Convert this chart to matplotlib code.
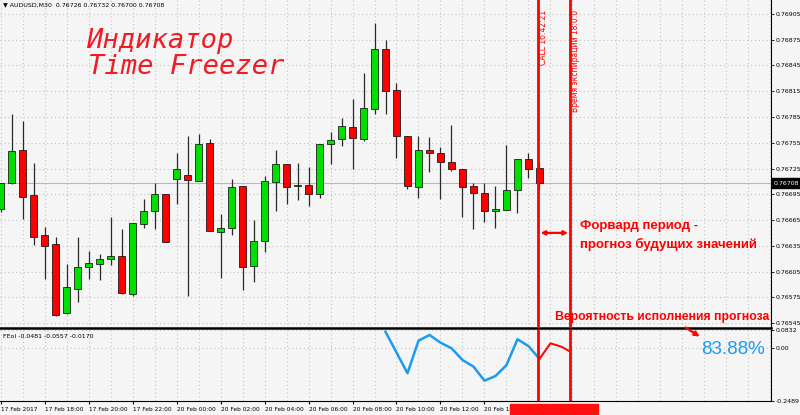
import numpy as np
import matplotlib
matplotlib.use('Agg')
import matplotlib.pyplot as plt
import matplotlib.transforms as mtransforms

# AUDUSD M30, 17 Feb 2017 16:00 ... 20 Feb 2017 16:30
opens = [0.76678, 0.76708, 0.76747, 0.76694, 0.76648, 0.76637, 0.76557, 0.76585, 0.76610, 0.76614,
         0.76620, 0.76623, 0.76579, 0.76660, 0.76675, 0.76695, 0.76713, 0.76717, 0.76711, 0.76755,
         0.76651, 0.76656, 0.76705, 0.76611, 0.76640, 0.76709, 0.76730, 0.76705, 0.76706, 0.76695,
         0.76754, 0.76759, 0.76773, 0.76759, 0.76794, 0.76864, 0.76816, 0.76763, 0.76704, 0.76747,
         0.76743, 0.76732, 0.76725, 0.76705, 0.76697, 0.76675, 0.76677, 0.76700, 0.76736, 0.76726]
highs = [0.76708, 0.76789, 0.76780, 0.76731, 0.76657, 0.76645, 0.76614, 0.76645, 0.76629, 0.76625,
         0.76668, 0.76655, 0.76661, 0.76689, 0.76708, 0.76695, 0.76743, 0.76763, 0.76765, 0.76759,
         0.76672, 0.76713, 0.76705, 0.76665, 0.76716, 0.76747, 0.76730, 0.76731, 0.76727, 0.76754,
         0.76768, 0.76784, 0.76806, 0.76836, 0.76895, 0.76875, 0.76825, 0.76763, 0.76763, 0.76762,
         0.76750, 0.76776, 0.76725, 0.76708, 0.76708, 0.76705, 0.76752, 0.76736, 0.76743, 0.76732]
lows = [0.76674, 0.76707, 0.76666, 0.76636, 0.76596, 0.76553, 0.76556, 0.76569, 0.76596, 0.76595,
        0.76613, 0.76579, 0.76576, 0.76656, 0.76655, 0.76639, 0.76684, 0.76576, 0.76711, 0.76652,
        0.76597, 0.76648, 0.76584, 0.76593, 0.76628, 0.76675, 0.76684, 0.76688, 0.76681, 0.76691,
        0.76730, 0.76751, 0.76725, 0.76757, 0.76788, 0.76788, 0.76737, 0.76701, 0.76691, 0.76721,
        0.76689, 0.76722, 0.76669, 0.76655, 0.76663, 0.76656, 0.76677, 0.76673, 0.76714, 0.76700]
closes = [0.76708, 0.76745, 0.76692, 0.76645, 0.76635, 0.76554, 0.76587, 0.76610, 0.76615, 0.76620,
          0.76623, 0.76580, 0.76661, 0.76675, 0.76695, 0.76639, 0.76724, 0.76712, 0.76754, 0.76652,
          0.76656, 0.76704, 0.76610, 0.76640, 0.76710, 0.76730, 0.76704, 0.76705, 0.76695, 0.76754,
          0.76758, 0.76774, 0.76760, 0.76796, 0.76864, 0.76815, 0.76763, 0.76705, 0.76747, 0.76743,
          0.76732, 0.76724, 0.76703, 0.76696, 0.76675, 0.76678, 0.76700, 0.76736, 0.76725, 0.76708]

# indicator (FEoI) values
ind_x = [35, 36, 37, 38, 39, 40, 41, 42, 43, 44, 45, 46, 47, 48, 49]
ind_y = [0.075, -0.022, -0.119, 0.033, 0.060, 0.024, -0.002, -0.057, -0.088, -0.154,
         -0.132, -0.081, 0.040, 0.008, -0.052]
fwd_x = [49, 50, 51, 51.8]
fwd_y = [-0.052, 0.021, 0.005, -0.018]

time_idx = [0, 4, 8, 12, 16, 20, 24, 28, 32, 36, 40, 44]
time_labels = ['17 Feb 2017', '17 Feb 18:00', '17 Feb 20:00', '17 Feb 22:00', '20 Feb 00:00',
               '20 Feb 02:00', '20 Feb 04:00', '20 Feb 06:00', '20 Feb 08:00', '20 Feb 10:00',
               '20 Feb 12:00', '20 Feb 14:00']
price_ticks = [0.76545, 0.76575, 0.76605, 0.76635, 0.76665, 0.76695, 0.76725, 0.76755,
               0.76785, 0.76815, 0.76845, 0.76875, 0.76905]
last_price = 0.76708
call_pos = 48.9
expiry_pos = 51.8

bg = '#f5f5f5'
grid_c = '#c4c4c4'
W, H = 800, 415


def fx(x):
    return x / W


def fy(y):
    return 1 - y / H


fig = plt.figure(figsize=(8, 4.15), dpi=100, facecolor=bg)
ax = fig.add_axes([0, fy(328), 771 / W, 328 / H], facecolor=bg)
ax2 = fig.add_axes([0, fy(401), 771 / W, 71 / H], facecolor=bg, sharex=ax)

x = np.arange(len(opens))
o = np.array(opens)
c = np.array(closes)
up = c >= o
cols = np.where(up, '#00e000', '#ff0000')
bottoms = np.minimum(o, c)
heights = np.maximum(np.abs(c - o), 0.000012)

ax.vlines(x, lows, highs, color='#2a2a2a', lw=0.9, zorder=3)
ax.bar(x, heights, bottom=bottoms, width=0.62, color=cols, edgecolor='black', lw=0.5, zorder=4)
ax.axhline(last_price, color='#b8b8b8', lw=0.8, zorder=1)

ax.set_xlim(-0.05, 70.05)
ax.set_ylim(0.765392, 0.769213)
ax2.set_ylim(-0.2489, 0.0832)

for a in (ax, ax2):
    a.set_xticks(np.arange(0, 71, 2), minor=True)
    a.grid(True, which='both', axis='x', color=grid_c, ls=(0, (1, 2.5)), lw=0.8)
    a.grid(True, which='major', axis='y', color=grid_c, ls=(0, (1, 2.5)), lw=0.8)
    a.set_axisbelow(True)
    for s in ('left', 'top'):
        a.spines[s].set_visible(False)
    a.spines['right'].set_color('black')
    a.spines['bottom'].set_color('black')
    a.yaxis.tick_right()
    a.tick_params(axis='y', direction='out', length=2, pad=1.5, labelsize=4.5, width=0.6)
    a.tick_params(axis='x', which='minor', length=0)
    a.axvline(call_pos, color='red', lw=2, zorder=5)
    a.axvline(expiry_pos, color='red', lw=2, zorder=5)

ax.spines['bottom'].set_linewidth(1.8)

ax.set_yticks(price_ticks)
ax.set_yticklabels(['%.5f' % p for p in price_ticks])
ax.set_xticks(time_idx)
ax.tick_params(axis='x', length=0, labelbottom=False)

ax2.set_yticks([-0.2489, 0.0, 0.0832])
ax2.set_yticklabels(['-0.2489', '0.00', '0.0832'])
ax2.set_xticks(time_idx)
ax2.set_xticklabels(time_labels)
ax2.tick_params(axis='x', direction='out', length=2.5, pad=1.5, labelsize=4.2, width=0.8)
for lab in ax2.get_xticklabels():
    lab.set_ha('left')

ax2.plot(ind_x, ind_y, color='#1a9cf0', lw=1.8, zorder=4)
ax2.plot(fwd_x, fwd_y, color='red', lw=1.4, zorder=4)

# last price marker on the price scale
trans = mtransforms.blended_transform_factory(ax.transAxes, ax.transData)
ax.text(1.004, last_price, '0.76708', transform=trans, color='white', fontsize=4.5,
        va='center', ha='left', clip_on=False,
        bbox=dict(boxstyle='square,pad=0.35', fc='black', ec='black'))

# headers
fig.text(fx(3), fy(5), '\u25bc AUDUSD,M30  0.76726 0.76732 0.76700 0.76708', fontsize=4.5,
         va='center', ha='left', color='black')
fig.text(fx(3), fy(336), 'FEoI -0.0481 -0.0557 -0.0170', fontsize=4.5,
         va='center', ha='left', color='black')

# title
fig.text(fx(86), fy(41), 'Индикатор', fontsize=19.5, color='#ee1c25', family='DejaVu Sans Mono',
         style='italic', va='center', ha='left')
fig.text(fx(88), fy(67), 'Time Freezer', fontsize=19.5, color='#ee1c25', family='DejaVu Sans Mono',
         style='italic', va='center', ha='left')

# vertical line labels
fig.text(fx(544), fy(10), 'CALL 16:42:21', rotation=90, fontsize=5.5, color='red',
         va='top', ha='center')
fig.text(fx(576), fy(10), 'Время экспирации 18:0:0', rotation=90, fontsize=5.5, color='red',
         va='top', ha='center')

# forward period arrow
ax.annotate('', xy=(51.6, 0.76650), xytext=(49.1, 0.76650),
            arrowprops=dict(arrowstyle='<|-|>', color='red', lw=1.6,
                            mutation_scale=6, shrinkA=0, shrinkB=0))
fig.text(fx(580), fy(226), 'Форвард период -', fontsize=9.5, color='red', fontweight='bold',
         family='Liberation Sans', va='center', ha='left')
fig.text(fx(580), fy(244), 'прогноз будущих значений', fontsize=9.5, color='red',
         fontweight='bold', family='Liberation Sans', va='center', ha='left')
fig.text(fx(555), fy(317), 'Вероятность исполнения прогноза', fontsize=8.8, color='red',
         fontweight='bold', family='Liberation Sans', va='center', ha='left')
fig.text(fx(701), fy(349), '83.88%', fontsize=13.5, color='#1a9cf0',
         family='Liberation Sans', va='center', ha='left')
fig.add_artist(matplotlib.patches.FancyArrowPatch((fx(683), fy(326)), (fx(702), fy(338)),
                                                  transform=fig.transFigure, color='red',
                                                  arrowstyle='-|>', mutation_scale=7, lw=1.6))

# red time marker on the time scale
fig.add_artist(matplotlib.patches.Rectangle((fx(510), 0), (598 - 510) / W, 11 / H,
                                            transform=fig.transFigure, color='#ff1010', zorder=10))

fig.savefig('out.png', dpi=100, facecolor=bg)
